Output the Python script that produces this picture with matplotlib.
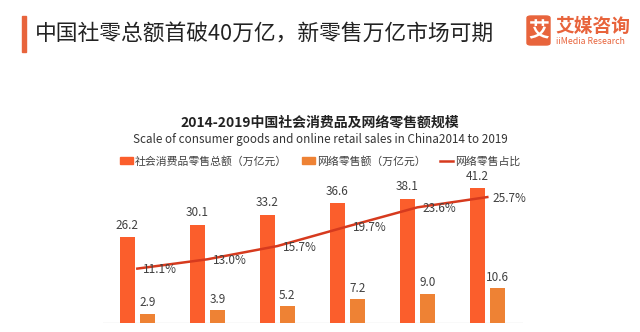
import matplotlib.pyplot as plt
from matplotlib.patches import FancyBboxPatch, Rectangle
from matplotlib.lines import Line2D
import numpy as np

plt.rcParams['font.family'] = ['Noto Sans CJK SC', 'DejaVu Sans']

years = ['2014', '2015', '2016', '2017', '2018', '2019']
retail_total = [26.2, 30.1, 33.2, 36.6, 38.1, 41.2]   # 社会消费品零售总额（万亿元）
online_retail = [2.9, 3.9, 5.2, 7.2, 9.0, 10.6]       # 网络零售额（万亿元）
online_share = [11.1, 13.0, 15.7, 19.7, 23.6, 25.7]   # 网络零售占比（%）

c_total = '#FB5E2C'
c_online = '#EE8234'
c_share = '#D63A1E'
c_text = '#404040'

fig = plt.figure(figsize=(6.4, 3.32), dpi=100)
fig.patch.set_facecolor('white')

# header
fig.patches.append(Rectangle((22 / 640, 1 - 52 / 332), 4 / 640, 36 / 332,
                             transform=fig.transFigure, color='#E8643C', zorder=2))
fig.text(35 / 640, 1 - 34 / 332, '中国社零总额首破40万亿，新零售万亿市场可期',
         fontsize=15.7, color='#222222', va='center', ha='left')

# logo
fig.patches.append(FancyBboxPatch((527 / 640, 1 - 45 / 332), 23 / 640, 29 / 332,
                                  boxstyle='round,pad=0,rounding_size=0.006',
                                  transform=fig.transFigure, color='#E8643C'))
fig.text(538.5 / 640, 1 - 30.5 / 332, '艾', fontsize=15, color='white', fontweight='bold',
         ha='center', va='center')
fig.text(555 / 640, 1 - 26 / 332, '艾媒咨询', fontsize=13.5, color='#E8643C',
         fontweight='bold', ha='left', va='center')
fig.text(556 / 640, 1 - 41 / 332, 'iiMedia Research', fontsize=6.3, color='#E8643C',
         ha='left', va='center')

# chart titles
fig.text(0.5, 1 - 123 / 332, '2014-2019中国社会消费品及网络零售额规模',
         fontsize=10, fontweight='bold', color='#222222', ha='center', va='center')
fig.text(0.5, 1 - 140 / 332, 'Scale of consumer goods and online retail sales in China2014 to 2019',
         fontsize=8.4, color='#333333', ha='center', va='center')

ax = fig.add_axes([103 / 640, 9 / 332, 420 / 640, 147 / 332])
ax2 = ax.twinx()

x = np.arange(len(years))
off = 10 / 70
w = 15 / 70
ax.bar(x - off, retail_total, width=w, color=c_total, zorder=2)
ax.bar(x + off, online_retail, width=w, color=c_online, zorder=2)

for xi, v in zip(x, retail_total):
    ax.annotate(f'{v:.1f}', (xi - off, v), xytext=(0, 4), textcoords='offset points',
                ha='center', va='bottom', fontsize=8.5, color=c_text)
for xi, v in zip(x, online_retail):
    ax.annotate(f'{v:.1f}', (xi + off, v), xytext=(0, 3), textcoords='offset points',
                ha='center', va='bottom', fontsize=8.5, color=c_text)

ax2.plot(x, online_share, color=c_share, linewidth=1.8, zorder=3)
for xi, v in zip(x, online_share):
    ax2.annotate(f'{v:.1f}%', (xi, v), xytext=(4, -1), textcoords='offset points',
                 ha='left', va='center', fontsize=8.5, color=c_text)

ax.set_xlim(-0.49, 5.51)
ax.set_ylim(0, 45)
ax2.set_ylim(0, 30)

ax.set_xticks([])
ax.set_yticks([])
ax2.set_yticks([])
for a in (ax, ax2):
    for s in ('top', 'left', 'right', 'bottom'):
        a.spines[s].set_visible(False)
ax.axhline(0, color='#E4E4E4', linewidth=1, zorder=1)
ax.set_zorder(ax2.get_zorder() - 1)
ax.patch.set_visible(False)

handles = [Rectangle((0, 0), 1, 1, color=c_total),
           Rectangle((0, 0), 1, 1, color=c_online),
           Line2D([0], [0], color=c_share, linewidth=1.8)]
labels = ['社会消费品零售总额（万亿元）', '网络零售额（万亿元）', '网络零售占比']
fig.legend(handles, labels, loc='center', bbox_to_anchor=(0.5, 1 - 161 / 332), ncol=3,
           frameon=False, fontsize=7.8, handlelength=1.2, handleheight=0.55,
           handletextpad=0.2, columnspacing=1.3, labelcolor=c_text)

fig.savefig('out.png', dpi=100, facecolor='white')
